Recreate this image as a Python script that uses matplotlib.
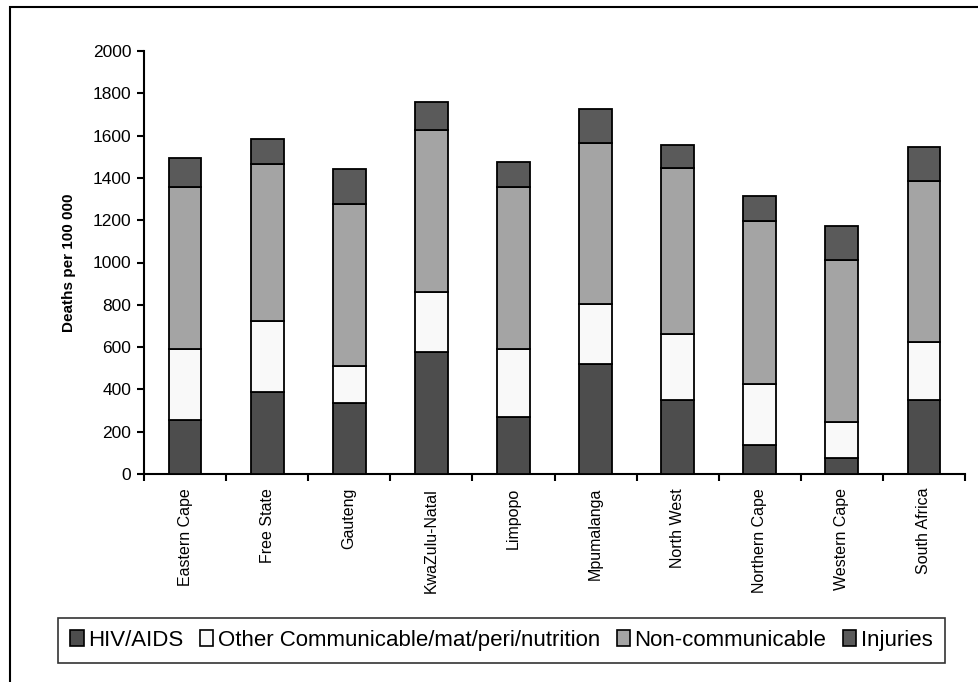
import matplotlib
matplotlib.use("Agg")
import matplotlib.pyplot as plt
from matplotlib.patches import Rectangle, Patch
import numpy as np

plt.rcParams['font.family'] = ['Liberation Sans', 'DejaVu Sans']

provinces = ["Eastern Cape", "Free State", "Gauteng", "KwaZulu-Natal", "Limpopo",
             "Mpumalanga", "North West", "Northern Cape", "Western Cape", "South Africa"]

hiv_aids = [254, 388, 334, 575, 271, 522, 351, 139, 76, 351]
other_comm = [338, 337, 178, 284, 321, 283, 312, 285, 168, 275]
non_comm = [766, 741, 766, 767, 766, 758, 785, 772, 766, 759]
injuries = [135, 116, 163, 134, 117, 163, 108, 118, 164, 161]

series_names = ["HIV/AIDS", "Other Communicable/mat/peri/nutrition",
                "Non-communicable", "Injuries"]
colors = ["#4d4d4d", "#f9f9f9", "#a4a4a4", "#5a5a5a"]

fig = plt.figure(figsize=(9.79, 6.82), dpi=100)

# outer frame
fig.patches.append(Rectangle((10 / 979, -0.1), 1.2, (682 - 7) / 682 + 0.1,
                             transform=fig.transFigure, fill=False,
                             edgecolor="black", linewidth=1.5))

ax = fig.add_axes([144 / 979, 1 - 474 / 682, (965 - 144) / 979, (474 - 51) / 682])

x = np.arange(len(provinces))
bottom = np.zeros(len(provinces))
for vals, name, col in zip([hiv_aids, other_comm, non_comm, injuries], series_names, colors):
    ax.bar(x, vals, width=0.4, bottom=bottom, color=col, edgecolor="black",
           linewidth=1.3, label=name, zorder=3)
    bottom += np.array(vals)

ax.set_xlim(-0.5, len(provinces) - 0.5)
ax.set_ylim(0, 2000)
ax.set_yticks(np.arange(0, 2001, 200))
ax.set_xticks(np.arange(len(provinces) + 1) - 0.5, minor=False)
ax.set_xticklabels([])
ax.set_xticks(x, minor=True)
ax.set_xticklabels(provinces, minor=True, rotation=90, fontsize=11.5)
ax.tick_params(axis="x", which="minor", length=0, pad=10)
ax.tick_params(axis="x", which="major", length=5, width=1.5, direction="out")
ax.tick_params(axis="y", length=5, width=1.5, labelsize=12.5, pad=4)

for s in ["top", "right"]:
    ax.spines[s].set_visible(False)
for s in ["left", "bottom"]:
    ax.spines[s].set_linewidth(1.5)

ax.set_ylabel("Deaths per 100 000", fontsize=11, fontweight="bold", labelpad=12)

handles = [Patch(facecolor=c, edgecolor="black", linewidth=1.2) for c in colors]
leg = fig.legend(handles, series_names, loc="center",
                 bbox_to_anchor=((58 + 945) / 2 / 979, 1 - 640.5 / 682),
                 ncol=4, fontsize=16, frameon=True, fancybox=False,
                 handlelength=0.6, handleheight=0.7, handletextpad=0.2,
                 columnspacing=0.75, borderpad=0.55, borderaxespad=0)
leg.get_frame().set_edgecolor("black")
leg.get_frame().set_linewidth(1.2)

fig.savefig("out.png", dpi=100)
